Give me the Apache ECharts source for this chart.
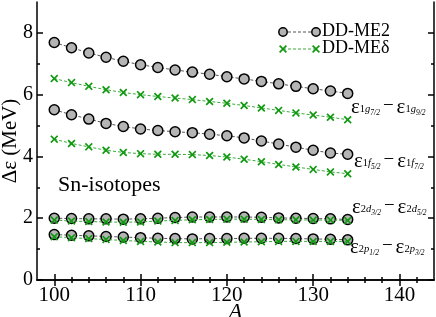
<!DOCTYPE html>
<html><head><meta charset="utf-8">
<script src="https://cdn.jsdelivr.net/npm/echarts@6/dist/echarts.min.js"></script>
<style>html,body{margin:0;padding:0;background:#fff}#c{width:436px;height:317px}</style>
</head><body><div id="c"></div>
<script>
const A = [100,102,104,106,108,110,112,114,116,118,120,122,124,126,128,130,132,134];
const me2_1g = [7.69,7.52,7.35,7.21,7.08,6.97,6.88,6.80,6.73,6.66,6.58,6.51,6.43,6.35,6.27,6.19,6.12,6.04];
const med_1g = [6.52,6.39,6.27,6.16,6.07,6.00,5.94,5.89,5.84,5.78,5.72,5.65,5.57,5.49,5.41,5.34,5.27,5.19];
const me2_1f = [5.51,5.35,5.21,5.07,4.97,4.89,4.84,4.80,4.77,4.72,4.67,4.60,4.50,4.40,4.30,4.20,4.11,4.07];
const med_1f = [4.56,4.42,4.31,4.20,4.13,4.09,4.07,4.07,4.06,4.03,3.98,3.91,3.83,3.74,3.66,3.58,3.50,3.44];
const me2_2d = [2.00,1.99,1.98,1.98,1.97,1.98,2.00,2.02,2.04,2.04,2.04,2.04,2.03,2.01,2.00,1.99,1.98,1.96];
const med_2d = [1.94,1.91,1.89,1.88,1.87,1.88,1.91,1.93,1.95,1.96,1.97,1.97,1.96,1.95,1.95,1.94,1.94,1.93];
const me2_2p = [1.47,1.45,1.43,1.41,1.39,1.37,1.35,1.34,1.33,1.34,1.34,1.35,1.35,1.35,1.34,1.33,1.32,1.30];
const med_2p = [1.40,1.37,1.34,1.31,1.28,1.25,1.23,1.21,1.21,1.21,1.22,1.23,1.24,1.25,1.25,1.25,1.25,1.25];
const xMajor = [100,110,120,130,140];
const xMinor = [102,104,106,108,112,114,116,118,122,124,126,128,132,134,136,138,142];
const yMajor = [0,2,4,6,8];
const yMinor = [1,3,5,7];
const seriesNames = ['DD-ME2','DD-MEδ'];
const yTitle = 'Δε (MeV)';

const FONT = '"Liberation Serif", "DejaVu Serif", serif';
const GRAY = '#b4b4b4';
const GREEN = '#119911';
const CROSS_PTS = [[0,1.5],[1.5,0],[5,3.5],[8.5,0],[10,1.5],[6.5,5],[10,8.5],[8.5,10],[5,6.5],[1.5,10],[0,8.5],[3.5,5]];
const CROSS = 'path://M' + CROSS_PTS.map(p=>p.join(',')).join('L') + 'Z';
function crossAt(cx,cy,s){return CROSS_PTS.map(p=>[cx-s/2+p[0]*s/10, cy-s/2+p[1]*s/10]);}

const chart = echarts.init(document.getElementById('c'), null, {renderer:'canvas'});
const zip = v => A.map((a,i)=>[a,v[i]]);
function me2(v){return {name:seriesNames[0],type:'line',data:zip(v),symbol:'circle',symbolSize:10,
  itemStyle:{color:GRAY,borderColor:'#000',borderWidth:1.5},
  lineStyle:{color:'#555',width:1,type:[3,2]},z:2,animation:false};}
function med(v){return {name:seriesNames[1],type:'line',data:zip(v),symbol:CROSS,symbolSize:8,
  itemStyle:{color:GREEN,borderWidth:0},
  lineStyle:{color:'#3aaa3a',width:1,type:[3,2]},z:3,animation:false};}

function xAx(pos, vals, len, labels){
  return {type:'value',position:pos,min:98,max:144,
    axisLine:{show:labels!==undefined,lineStyle:{color:'#000',width:1.5}},
    axisTick:{show:true,inside:true,length:len,customValues:vals,lineStyle:{color:'#000',width:1.5}},
    axisLabel:{show:!!labels,customValues:vals,fontFamily:FONT,fontSize:21,color:'#000',margin:5},
    splitLine:{show:false},
    name: labels?'A':'', nameLocation:'middle', nameGap:21, nameMoveOverlap:false,
    nameTextStyle:{fontFamily:FONT,fontSize:22,fontStyle:'italic',color:'#000'}};
}
function yAx(pos, vals, len, labels){
  return {type:'value',position:pos,min:0,max:9,
    axisLine:{show:labels!==undefined,lineStyle:{color:'#000',width:1.5}},
    axisTick:{show:true,inside:true,length:len,customValues:vals,lineStyle:{color:'#000',width:1.5}},
    axisLabel:{show:!!labels,customValues:vals,fontFamily:FONT,fontSize:20,color:'#000',margin:4},
    splitLine:{show:false}};
}

function lab(s1,s2,t1,t2){
  return '{e|ε}{s|'+s1+'}{si|'+s2+'}{ss|'+t1+'}{m|−}{e|ε}{s|'+s1+'}{si|'+s2+'}{ss|'+t2+'}';
}
const rich = {
  e:{fontFamily:FONT,fontSize:21,fill:'#000',color:'#000',verticalAlign:'top',lineHeight:20,padding:[0,0,7,0]},
  m:{fontFamily:FONT,fontSize:19,fill:'#000',color:'#000',verticalAlign:'top',lineHeight:20,padding:[0,3,0,3]},
  s:{fontFamily:FONT,fontSize:10.5,fill:'#000',color:'#000',verticalAlign:'bottom',lineHeight:11,padding:[0,0,2,0]},
  si:{fontFamily:FONT,fontSize:10.5,fontStyle:'italic',fill:'#000',color:'#000',verticalAlign:'bottom',lineHeight:11,padding:[0,0,2,0]},
  ss:{fontFamily:FONT,fontSize:7.5,fontStyle:'italic',fill:'#000',color:'#000',verticalAlign:'bottom',lineHeight:7,padding:[0,0,0,0]}
};

const option = {
  animation:false,
  grid:{left:37,right:2,top:2,bottom:37,containLabel:false,outerBoundsMode:'none'},
  xAxis:[xAx('bottom',xMajor,6,true), xAx('bottom',xMinor,3), xAx('top',xMajor,6,false), xAx('top',xMinor,3)],
  yAxis:[yAx('left',yMajor,6,true), yAx('left',yMinor,3), yAx('right',yMajor,6,false), yAx('right',yMinor,3)],
  series:[me2(me2_1g),me2(me2_1f),me2(me2_2d),me2(me2_2p),med(med_1g),med(med_1f),med(med_2d),med(med_2p)],
  graphic:[
    {type:'text',x:10,y:141,rotation:Math.PI/2,style:{text:yTitle,font:'21px '+FONT,fill:'#000',align:'center',verticalAlign:'middle'}},
    {type:'text',x:58,y:174,style:{text:'Sn-isotopes',font:'22px '+FONT,fill:'#000'}},
    {type:'text',x:351,y:97,style:{text:lab('1','g','7/2','9/2'),rich:rich}},
    {type:'text',x:354,y:151,style:{text:lab('1','f','5/2','7/2'),rich:rich}},
    {type:'text',x:352,y:197,style:{text:lab('2','d','3/2','5/2'),rich:rich}},
    {type:'text',x:350,y:237,style:{text:lab('2','p','1/2','3/2'),rich:rich}},
    {type:'line',shape:{x1:283,y1:32,x2:316,y2:32},style:{stroke:'#555',lineWidth:1,lineDash:[3,2]}},
    {type:'circle',shape:{cx:283,cy:32,r:4.2},style:{fill:GRAY,stroke:'#000',lineWidth:1.5}},
    {type:'circle',shape:{cx:316,cy:32,r:4.2},style:{fill:GRAY,stroke:'#000',lineWidth:1.5}},
    {type:'text',x:322,y:22,style:{text:seriesNames[0],font:'18px '+FONT,fill:'#000'}},
    {type:'line',shape:{x1:283,y1:49,x2:316,y2:49},style:{stroke:'#3aaa3a',lineWidth:1,lineDash:[3,2]}},
    {type:'polygon',shape:{points:crossAt(283,49,8)},style:{fill:GREEN}},
    {type:'polygon',shape:{points:crossAt(316,49,8)},style:{fill:GREEN}},
    {type:'text',x:322,y:39,style:{text:seriesNames[1],font:'18px '+FONT,fill:'#000'}}
  ]
};
chart.setOption(option);
</script></body></html>
